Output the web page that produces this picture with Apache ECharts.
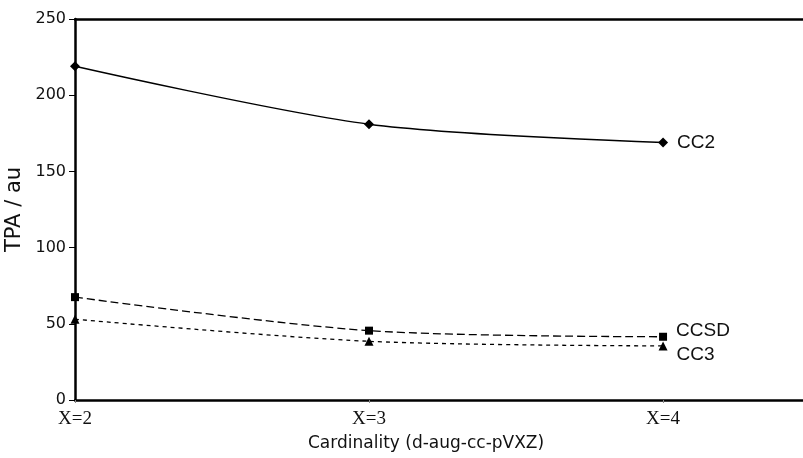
<!DOCTYPE html>
<html><head><meta charset="utf-8">
<script src="https://cdn.jsdelivr.net/npm/echarts@6/dist/echarts.min.js"></script>
<style>html,body{margin:0;padding:0;background:#fff}#c{width:803px;height:458px}</style>
</head><body><div id="c"></div>
<script>
var cardinality = [2, 3, 4];
var tickLabels = {2: 'X=2', 3: 'X=3', 4: 'X=4'};
var cc2 = [219, 181, 169];
var ccsd = [67.5, 45.5, 41.5];
var cc3 = [53, 38.5, 35.5];
var seriesNames = ['CC2', 'CCSD', 'CC3'];

function pts(vals, name, lblOffset) {
  return vals.map(function (v, i) {
    var d = { value: [cardinality[i], v] };
    if (i === vals.length - 1) {
      d.label = { show: true, formatter: name, position: 'right', distance: 9, offset: [0, lblOffset],
        fontFamily: 'Liberation Sans', fontSize: 19, color: '#111' };
    }
    return d;
  });
}

var chart = echarts.init(document.getElementById('c'));
chart.setOption({
  animation: false,
  grid: { left: 75, right: 0, top: 19, bottom: 58, outerBoundsMode: 'none', containLabel: false },
  xAxis: [{
    type: 'value', min: 2, max: 4.476, interval: 1,
    axisLine: { lineStyle: { color: '#000', width: 2.5 } },
    axisTick: { show: true, length: 3, lineStyle: { color: '#888' } },
    splitLine: { show: false },
    axisLabel: { formatter: function (v) { return tickLabels[v] || ''; }, fontFamily: 'Liberation Serif', fontSize: 19, color: '#111', margin: 10, showMaxLabel: false }
  }, {
    type: 'value', position: 'top', min: 2, max: 4.476,
    axisLine: { show: true, onZero: false, lineStyle: { color: '#000', width: 2.5 } },
    axisTick: { show: false }, axisLabel: { show: false }, splitLine: { show: false }
  }],
  yAxis: {
    type: 'value', min: 0, max: 250, interval: 50,
    name: 'TPA / au', nameLocation: 'middle', nameGap: 44,
    nameTextStyle: { fontFamily: 'DejaVu Sans', fontSize: 21, color: '#111' },
    axisLine: { show: true, lineStyle: { color: '#000', width: 2.5 } },
    axisTick: { show: true, length: 6, lineStyle: { color: '#000', width: 1 } },
    splitLine: { show: false },
    axisLabel: { fontFamily: 'DejaVu Sans', fontSize: 16, color: '#111', margin: 9 }
  },
  graphic: [{
    type: 'text', left: 308, top: 435,
    style: { text: 'Cardinality (d-aug-cc-pVXZ)', font: '17px "DejaVu Sans"', fill: '#111' }
  }],
  series: [{
    name: seriesNames[0], type: 'line', data: pts(cc2, seriesNames[0], 0),
    symbol: 'diamond', symbolSize: 10, smooth: 0.3,
    lineStyle: { color: '#000', width: 1.5, type: 'solid' }, itemStyle: { color: '#000' }
  }, {
    name: seriesNames[1], type: 'line', data: pts(ccsd, seriesNames[1], -6),
    symbol: 'rect', symbolSize: 8, smooth: 0.3,
    lineStyle: { color: '#000', width: 1.3, type: [8, 4] }, itemStyle: { color: '#000' }
  }, {
    name: seriesNames[2], type: 'line', data: pts(cc3, seriesNames[2], 9),
    symbol: 'triangle', symbolSize: 9, smooth: 0.3,
    lineStyle: { color: '#000', width: 1.3, type: [4, 4] }, itemStyle: { color: '#000' }
  }]
});
</script></body></html>
